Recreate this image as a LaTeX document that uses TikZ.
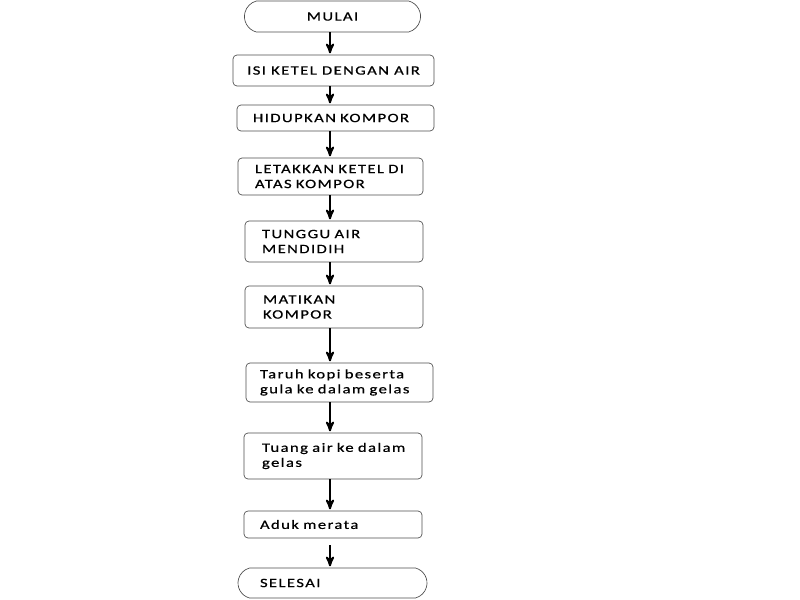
\documentclass[tikz,border=0pt]{standalone}
\usepackage{fontspec}
\setmainfont{Carlito}[FakeStretch=1.3,LetterSpace=11,FakeBold=0.6]
\usetikzlibrary{arrows,shapes.misc}

\begin{document}
\begin{tikzpicture}[->,>=stealth',shorten >=1pt,x=0.75pt,y=-0.75pt,
                    line width=1.5pt,
                    proc/.style={rectangle,draw=black!70,line width=0.5pt,
                      rounded corners=3pt,inner ysep=0pt,align=left,
                      font=\fontsize{9.6}{11.25}\selectfont},
                    term/.style={rounded rectangle,rounded rectangle arc length=150,
                      draw=black!70,line width=0.5pt,
                      inner ysep=0pt,font=\fontsize{9.6}{11.25}\selectfont}]

  \useasboundingbox (0,0) rectangle (800,600);
  \coordinate (spine) at (330,0);

  \node[term,minimum width=138.75pt,minimum height=23.25pt] (start) at (332.5,16.5) {MULAI};
  \node[proc,align=center,minimum width=150.75pt,minimum height=23.25pt] (fill) at (333.5,70.5) {ISI KETEL DENGAN AIR};
  \node[proc,text width=123.75pt,inner xsep=12pt,minimum height=19.5pt] (heat) at (335.5,118) {HIDUPKAN KOMPOR};
  \node[proc,text width=113.25pt,inner xsep=12.75pt,minimum height=27.75pt] (place) at (330.5,176.5) {LETAKKAN KETEL DI\\ATAS KOMPOR};
  \node[proc,text width=108pt,inner xsep=12.75pt,minimum height=30.75pt] (wait) at (334,241.5) {TUNGGU AIR\\MENDIDIH};
  \node[proc,text width=106.5pt,inner xsep=13.5pt,minimum height=31.5pt] (off) at (334,307) {MATIKAN\\KOMPOR};
  \node[proc,text width=119.25pt,inner xsep=10.5pt,minimum height=29.25pt] (coffee) at (339.5,382.5) {Taruh kopi beserta\\gula ke dalam gelas};
  \node[proc,text width=106.5pt,inner xsep=13.5pt,minimum height=34.5pt] (pour) at (333,456) {\mbox{Tuang air ke dalam}\\gelas};
  \node[proc,text width=109.5pt,inner xsep=12pt,minimum height=20.25pt] (stir) at (333,524.5) {Aduk merata};
  \node[term,text width=108.75pt,inner xsep=6pt,align=left,minimum width=153.75pt,minimum height=22.5pt] (end) at (332.5,583) {SELESAI};

  \path (start.south -| spine) edge (fill.north -| spine);
  \path (fill.south -| spine)  edge (heat.north -| spine);
  \path (heat.south -| spine)  edge (place.north -| spine);
  \path (place.south -| spine) edge (wait.north -| spine);
  \path (wait.south -| spine)  edge (off.north -| spine);
  \path (off.south -| spine)   edge (coffee.north -| spine);
  \path (coffee.south -| spine) edge (pour.north -| spine);
  \path (pour.south -| spine)  edge (stir.north -| spine);
  \path (stir.south -| spine)  edge [shorten <=5pt] (end.north -| spine);

\end{tikzpicture}
\end{document}
